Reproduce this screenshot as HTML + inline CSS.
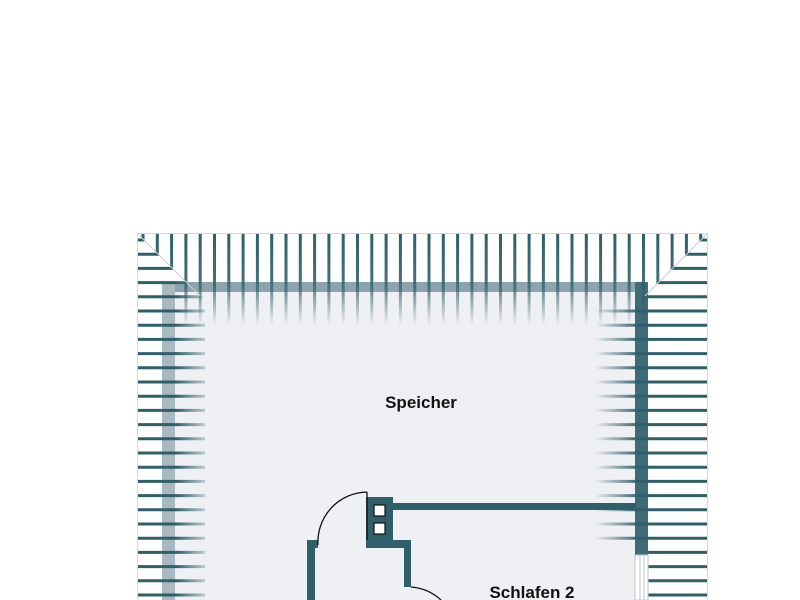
<!DOCTYPE html>
<html><head><style>html,body{margin:0;padding:0;background:#fff}svg{display:block}</style></head>
<body>
<svg width="800" height="600" viewBox="0 0 800 600" xmlns="http://www.w3.org/2000/svg">
<defs>
<linearGradient id="gv" gradientUnits="userSpaceOnUse" x1="0" y1="233" x2="0" y2="325">
<stop offset="0" stop-color="#2e5f6a"/><stop offset="0.5" stop-color="#2e5f6a" stop-opacity="0.9"/><stop offset="1" stop-color="#2e5f6a" stop-opacity="0"/></linearGradient>
<linearGradient id="gl" gradientUnits="userSpaceOnUse" x1="137" y1="0" x2="215" y2="0">
<stop offset="0" stop-color="#2e5f6a"/><stop offset="0.5" stop-color="#2e5f6a"/><stop offset="1" stop-color="#2e5f6a" stop-opacity="0"/></linearGradient>
<linearGradient id="gr" gradientUnits="userSpaceOnUse" x1="708" y1="0" x2="595" y2="0">
<stop offset="0" stop-color="#2e5f6a"/><stop offset="0.6" stop-color="#2e5f6a"/><stop offset="1" stop-color="#2e5f6a" stop-opacity="0"/></linearGradient>
<clipPath id="ctop"><polygon points="137,233 708,233 648,293 648,330 175,330 175,271"/></clipPath>
<clipPath id="cl"><polygon points="137,233 175,271 205,300 205,600 137,600"/></clipPath>
<clipPath id="cr"><polygon points="708,233 648,293 640,300 590,300 590,600 708,600"/></clipPath>
</defs>
<rect x="175" y="292" width="460" height="308" fill="#eef0f4"/>
<rect x="162" y="282" width="486" height="10" fill="#6f8f98" opacity="0.8"/>
<rect x="162" y="282" width="13" height="318" fill="#a9b9c0"/>
<rect x="635" y="282" width="13" height="273" fill="#3d6b76"/>
<g clip-path="url(#ctop)" stroke="url(#gv)" stroke-width="3">
<path d="M143 233V330M157.3 233V330M171.6 233V330M185.9 233V330M200.2 233V330M214.5 233V330M228.8 233V330M243.1 233V330M257.4 233V330M271.7 233V330M286 233V330M300.3 233V330M314.6 233V330M328.9 233V330M343.2 233V330M357.5 233V330M371.8 233V330M386.1 233V330M400.4 233V330M414.7 233V330M429 233V330M443.3 233V330M457.6 233V330M471.9 233V330M486.2 233V330M500.5 233V330M514.8 233V330M529.1 233V330M543.4 233V330M557.7 233V330M572 233V330M586.3 233V330M600.6 233V330M614.9 233V330M629.2 233V330M643.5 233V330M657.8 233V330M672.1 233V330M686.4 233V330M700.7 233V330"/>
</g>
<g clip-path="url(#cl)" stroke="url(#gl)" stroke-width="3">
<path d="M137 240H215M137 254.2H215M137 268.4H215M137 282.6H215M137 296.8H215M137 311H215M137 325.2H215M137 339.4H215M137 353.6H215M137 367.8H215M137 382H215M137 396.2H215M137 410.4H215M137 424.6H215M137 438.8H215M137 453H215M137 467.2H215M137 481.4H215M137 495.6H215M137 509.8H215M137 524H215M137 538.2H215M137 552.4H215M137 566.6H215M137 580.8H215M137 595H215"/>
</g>
<g clip-path="url(#cr)" stroke="url(#gr)" stroke-width="3">
<path d="M595 240H708M595 254.2H708M595 268.4H708M595 282.6H708M595 296.8H708M595 311H708M595 325.2H708M595 339.4H708M595 353.6H708M595 367.8H708M595 382H708M595 396.2H708M595 410.4H708M595 424.6H708M595 438.8H708M595 453H708M595 467.2H708M595 481.4H708M595 495.6H708M595 509.8H708M595 524H708M595 538.2H708"/>
<path d="M648 552.4H708M648 566.6H708M648 580.8H708M648 595H708"/>
</g>
<line x1="137" y1="233" x2="200" y2="296" stroke="#ccd" stroke-width="1"/>
<line x1="708" y1="233" x2="645" y2="296" stroke="#ccd" stroke-width="1"/>
<path d="M137.5 600V233.5H707.5V600" fill="none" stroke="#d5d9dd" stroke-width="1"/>
<rect x="635" y="555" width="13" height="45" fill="#fff" stroke="#bfc5c9" stroke-width="1"/>
<line x1="640" y1="555" x2="640" y2="600" stroke="#bfc5c9"/>
<line x1="644" y1="555" x2="644" y2="600" stroke="#bfc5c9"/>
<rect x="393" y="503" width="243" height="7" fill="#2f5f6a"/>
<path d="M366 497H393V540H411V587H404V548H366Z" fill="#2f5f6a"/>
<path d="M307 600V540H318V548H315V600Z" fill="#2f5f6a"/>
<rect x="374" y="505" width="11" height="11" fill="#fff" stroke="#111" stroke-width="1.2"/>
<rect x="374" y="523" width="11" height="11" fill="#fff" stroke="#111" stroke-width="1.2"/>
<path d="M318 545A50 50 0 0 1 367 492" fill="none" stroke="#111" stroke-width="1.3"/>
<line x1="367" y1="492" x2="367" y2="540" stroke="#111" stroke-width="1.3"/>
<path d="M411 587A50 50 0 0 1 441 600" fill="none" stroke="#111" stroke-width="1.3"/>
<text x="421" y="408" font-family="Liberation Sans, sans-serif" font-size="17" font-weight="bold" text-anchor="middle" fill="#111">Speicher</text>
<text x="532" y="598" font-family="Liberation Sans, sans-serif" font-size="17" font-weight="bold" text-anchor="middle" fill="#111">Schlafen 2</text>
</svg>
</body></html>
